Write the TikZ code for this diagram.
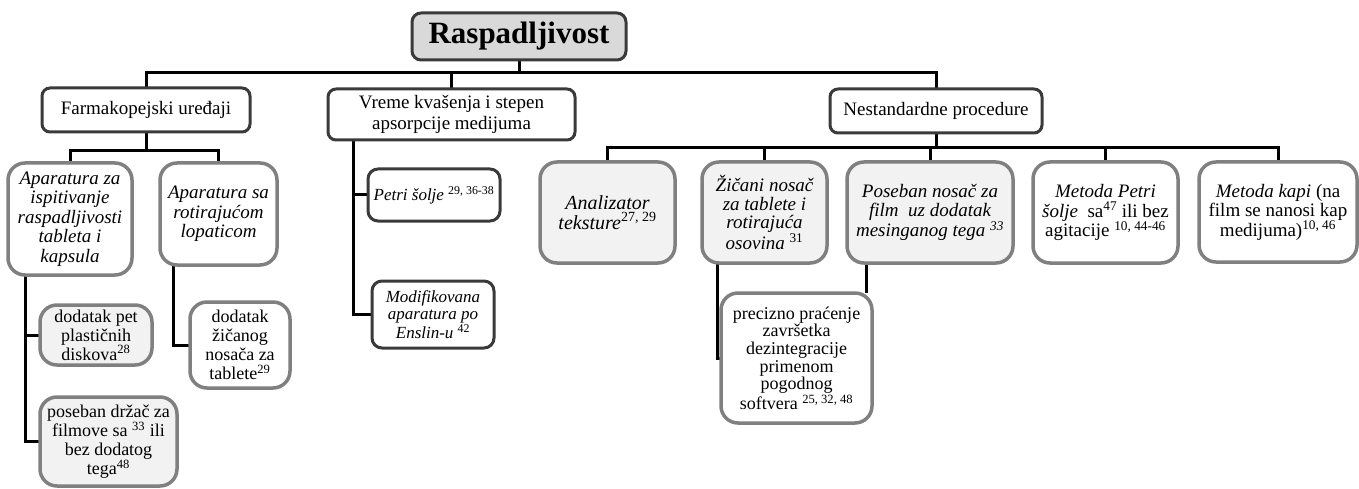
\documentclass[tikz,border=0pt]{standalone}
\usepackage{fontspec}
\setmainfont{Liberation Serif}
\usetikzlibrary{backgrounds}
\definecolor{rootfill}{HTML}{D9D9D9}
\definecolor{darkb}{HTML}{3A3A3A}
\definecolor{grayb}{HTML}{808080}
\definecolor{lightfill}{HTML}{F2F2F2}
\newcommand\bnode[7]{\node[#1, minimum width={(#5-#3)*1pt}, minimum height={(#6-#4)*1pt}] (#2) at ({(#3+#5)/2},{(#4+#6)/2}) {#7};}
\newcommand\sps[1]{\textsuperscript{\textup{#1}}}
\tikzset{
 base/.style={inner sep=0pt, outer sep=0pt, align=center, line width=3pt, font=\fontsize{19}{19.5}\selectfont},
 rootbox/.style={base, draw=darkb, fill=rootfill, rounded corners=9pt, font=\fontsize{31}{33}\selectfont\bfseries},
 lvlbox/.style={base, draw=darkb, fill=white, rounded corners=8pt, font=\fontsize{19}{21.5}\selectfont},
 graybox/.style={base, draw=grayb, fill=lightfill, rounded corners=17pt, line width=3.5pt},
 whitebox/.style={base, draw=grayb, fill=white, rounded corners=17pt, line width=3.5pt},
 darkbox/.style={base, draw=darkb, fill=white, rounded corners=10pt, font=\fontsize{17}{17.5}\selectfont\itshape},
 conn/.style={line width=3pt, black},
}
\begin{document}
\begin{tikzpicture}[x=1pt,y=-1pt]
\useasboundingbox (0,0) rectangle (1359,489);
% level 0 and 1
\bnode{rootbox}{root}{412}{13}{626}{60}{Raspadljivost}
\bnode{lvlbox}{farm}{42}{88}{250}{132}{Farmakopejski uređaji}
\bnode{lvlbox}{vreme}{328}{89}{575}{140}{Vreme kvašenja i stepen\\apsorpcije medijuma}
\bnode{lvlbox}{nest}{830}{89}{1042}{133}{Nestandardne procedure}
% Farmakopejski
\bnode{whitebox,font=\fontsize{19}{19.5}\selectfont\itshape}{ap1}{8}{163}{132}{275}{Aparatura za\\ispitivanje\\raspadljivosti\\tableta i\\kapsula}
\bnode{whitebox,font=\fontsize{19}{19.5}\selectfont\itshape}{ap2}{160}{163}{277}{265}{Aparatura sa\\rotirajućom\\lopaticom}
\bnode{graybox,font=\fontsize{18}{19}\selectfont}{pet}{40}{305}{152}{365}{dodatak pet\\plastičnih\\diskova\sps{28}}
\bnode{graybox,font=\fontsize{18}{19}\selectfont}{drz}{40}{397}{177}{486}{poseban držač za\\filmove sa \sps{33} ili\\bez dodatog\\tega\sps{48}}
\bnode{whitebox,font=\fontsize{18}{19}\selectfont}{zic2}{190}{302}{290}{388}{dodatak\\žičanog\\nosača za\\tablete\sps{29}}
% Vreme
\bnode{darkbox}{petri}{368}{169}{500}{221}{Petri šolje \sps{29, 36-38}}
\bnode{darkbox}{modif}{372}{281}{494}{348}{Modifikovana\\aparatura po\\Enslin-u \sps{42}}
% Nestandardne
\bnode{graybox,font=\fontsize{20}{20}\selectfont\itshape}{anal}{540}{162}{675}{263}{Analizator\\teksture\sps{27, 29}}
\bnode{graybox,font=\fontsize{19}{18.5}\selectfont\itshape}{zic}{702}{162}{827}{263}{Žičani nosač\\za tablete i\\rotirajuća\\osovina \sps{31}}
\bnode{graybox,font=\fontsize{19}{18.5}\selectfont\itshape}{posn}{847}{162}{1013}{263}{Poseban nosač za\\film\ \ uz dodatak\\mesinganog tega \textsuperscript{33}}
\bnode{whitebox}{mpetri}{1033}{162}{1178}{263}{\textit{Metoda Petri}\\\textit{šolje}\ \ sa\sps{47} ili bez\\agitacije \sps{10, 44-46}}
\bnode{whitebox}{mkapi}{1199}{162}{1357}{262}{\textit{Metoda kapi} (na\\film se nanosi kap\\medijuma)\sps{10, 46}}
\bnode{whitebox,font=\fontsize{18}{17.7}\selectfont}{prec}{721}{293}{872}{423}{precizno praćenje\\završetka\\dezintegracije\\primenom\\pogodnog\\softvera \sps{25, 32, 48}}
% connectors
\begin{scope}[on background layer]
\draw[conn] (root.south) -- ++(0,13) -| (farm.north);
\draw[conn] (root.south) -- ++(0,13) -| (vreme.north);
\draw[conn] (root.south) -- ++(0,13) -| (nest.north);
\draw[conn] (farm.south) -- ++(0,19) -| (ap1.north);
\draw[conn] (farm.south) -- ++(0,19) -| (ap2.north);
\draw[conn] ([xshift=17pt]ap1.south west) |- (pet.west);
\draw[conn] ([xshift=17pt]ap1.south west) |- (drz.west);
\draw[conn] ([xshift=13pt]ap2.south west) |- (zic2.west);
\draw[conn] ([xshift=25pt]vreme.south west) |- (petri.west);
\draw[conn] ([xshift=25pt]vreme.south west) |- (modif.west);
\draw[conn] (nest.south) -- ++(0,15) -| (anal.north);
\draw[conn] (nest.south) -- ++(0,15) -| (zic.north);
\draw[conn] (nest.south) -- ++(0,15) -| (posn.north);
\draw[conn] (nest.south) -- ++(0,15) -| (mpetri.north);
\draw[conn] (nest.south) -- ++(0,15) -| (mkapi.north);
\draw[conn] ([xshift=15pt]zic.south west) |- (prec.west);
\draw[conn] ([xshift=19pt]posn.south west) -- ([xshift=19pt]posn.south west |- prec.north);
\end{scope}
\end{tikzpicture}
\end{document}
